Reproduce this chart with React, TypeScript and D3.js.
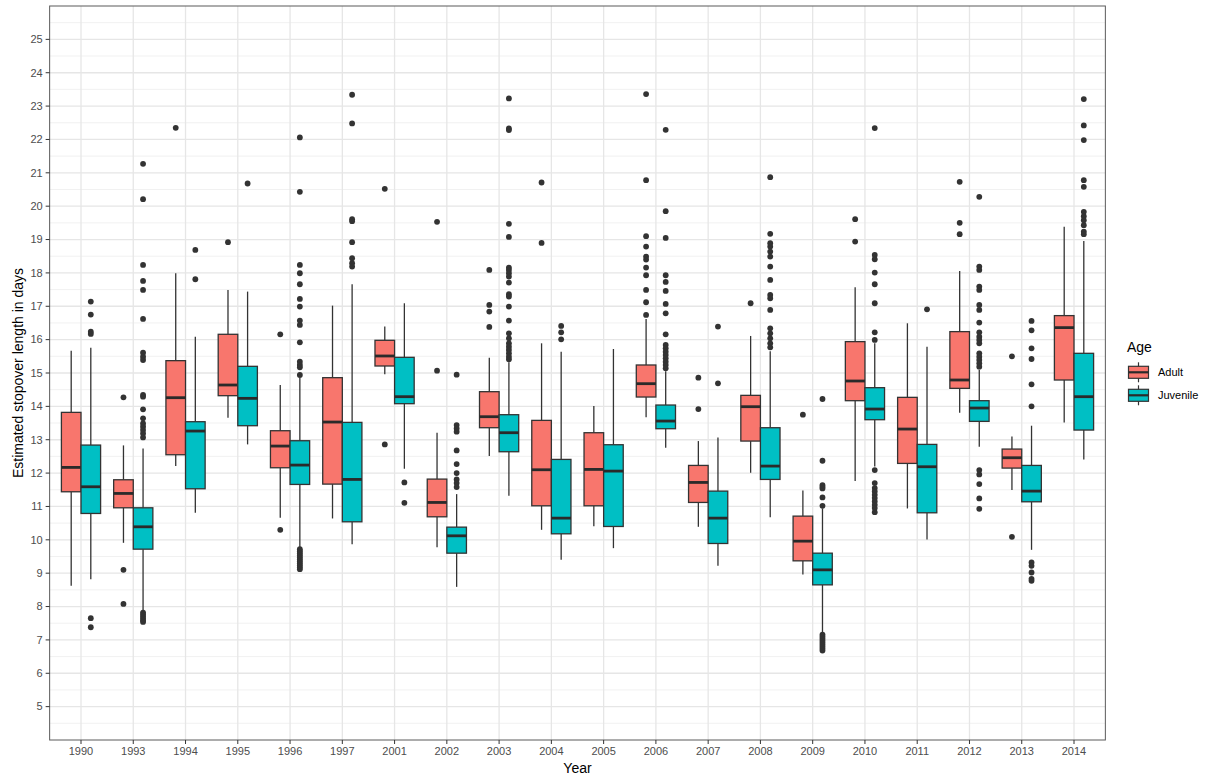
import React from "react";
import * as d3 from "d3";

const years = ["1990","1993","1994","1995","1996","1997","2001","2002","2003","2004","2005","2006","2007","2008","2009","2010","2011","2012","2013","2014"];
const yTicks = [5,6,7,8,9,10,11,12,13,14,15,16,17,18,19,20,21,22,23,24,25];
const ageLevels = ["Adult", "Juvenile"];

const adultLower  = [8.62, 9.91, 12.21, 13.66, 10.66, 10.64, 14.96, 9.78, 12.51, 10.30, 10.41, 13.67, 10.39, 12.01, 8.96, 11.76, 10.94, 13.81, 11.49, 13.52];
const adultQ1     = [11.44, 10.96, 12.55, 14.32, 12.16, 11.67, 15.21, 10.69, 13.36, 11.02, 11.02, 14.28, 11.12, 12.96, 9.37, 14.17, 12.29, 14.54, 12.15, 14.79];
const adultMedian = [12.17, 11.39, 14.26, 14.64, 12.81, 13.53, 15.51, 11.12, 13.69, 12.10, 12.11, 14.68, 11.72, 13.99, 9.96, 14.76, 13.32, 14.79, 12.46, 16.36];
const adultQ3     = [13.82, 11.80, 15.37, 16.16, 13.27, 14.86, 15.98, 11.82, 14.44, 13.58, 13.21, 15.24, 12.23, 14.33, 10.71, 15.94, 14.27, 16.24, 12.72, 16.72];
const adultUpper  = [15.67, 12.83, 17.99, 17.49, 14.64, 17.02, 16.39, 13.21, 15.46, 15.89, 14.01, 16.62, 12.96, 16.11, 11.48, 17.57, 16.49, 18.06, 13.10, 19.38];
const adultOutliers = [
  [],
  [14.27, 9.10, 8.08],
  [22.35],
  [18.92],
  [16.16, 10.30],
  [],
  [20.52, 12.86],
  [19.53, 15.07],
  [18.09, 17.04, 16.84, 16.38],
  [20.71, 18.90],
  [],
  [23.36, 20.78, 19.10, 18.79, 18.49, 18.40, 18.16, 17.93, 17.49, 17.12, 16.74],
  [14.86, 13.92],
  [17.09],
  [13.75],
  [19.61, 18.94],
  [],
  [20.73, 19.50, 19.16],
  [15.50, 10.09],
  []
];

const juvLower  = [8.82, 7.88, 10.81, 12.86, 9.78, 9.87, 12.13, 8.59, 11.32, 9.40, 9.75, 12.76, 9.22, 10.68, 7.22, 12.20, 10.01, 12.79, 9.70, 12.41];
const juvQ1     = [10.79, 9.72, 11.53, 13.42, 11.66, 10.54, 14.08, 9.60, 12.64, 10.18, 10.40, 13.33, 9.89, 11.81, 8.65, 13.60, 10.81, 13.55, 11.14, 13.29];
const juvMedian = [11.59, 10.39, 13.26, 14.24, 12.24, 11.81, 14.29, 10.12, 13.21, 10.65, 12.06, 13.56, 10.65, 12.21, 9.10, 13.92, 12.19, 13.95, 11.46, 14.29];
const juvQ3     = [12.84, 10.96, 13.54, 15.20, 12.97, 13.52, 15.47, 10.38, 13.75, 12.41, 12.85, 14.04, 11.46, 13.36, 9.60, 14.56, 12.86, 14.17, 12.23, 15.59];
const juvUpper  = [15.76, 12.74, 16.09, 17.44, 14.85, 17.66, 17.09, 11.37, 15.32, 15.64, 15.72, 15.05, 13.07, 15.65, 10.94, 15.89, 15.79, 15.10, 13.42, 18.96];
const juvOutliers = [
  [17.14, 16.75, 16.24, 16.17, 7.65, 7.38],
  [21.27, 20.21, 18.24, 17.76, 17.49, 16.62, 15.61, 15.49, 15.39, 14.34, 14.29, 13.91, 13.64, 13.49, 13.39, 13.29, 13.19, 13.07, 7.82, 7.76, 7.70, 7.64, 7.58, 7.54],
  [18.69, 17.81],
  [20.68],
  [22.06, 20.43, 18.24, 17.99, 17.66, 17.22, 16.99, 16.57, 16.44, 15.92, 15.34, 15.24, 15.17, 14.94, 9.72, 9.66, 9.60, 9.54, 9.48, 9.42, 9.36, 9.30, 9.24, 9.18, 9.12],
  [23.34, 22.48, 19.61, 19.55, 18.92, 18.44, 18.29, 18.19],
  [11.72, 11.11],
  [14.95, 13.44, 13.34, 13.24, 12.68, 12.27, 12.00, 11.81, 11.70, 11.58],
  [23.23, 22.33, 22.28, 19.47, 19.08, 18.16, 18.09, 17.99, 17.89, 17.71, 17.36, 17.29, 16.99, 16.57, 16.19, 16.04, 15.89, 15.79, 15.69, 15.59, 15.49, 15.41],
  [16.41, 16.22, 16.01],
  [],
  [22.29, 19.85, 19.05, 17.93, 17.73, 17.46, 17.07, 16.79, 16.16, 15.84, 15.74, 15.64, 15.54, 15.44, 15.34, 15.24, 15.14],
  [16.39, 14.69],
  [20.87, 19.17, 18.89, 18.79, 18.64, 18.49, 18.19, 17.79, 17.34, 17.24, 16.89, 16.34, 16.19, 16.04, 15.89, 15.77],
  [14.22, 12.37, 11.64, 11.59, 11.54, 11.27, 11.02, 7.16, 7.10, 7.04, 6.98, 6.92, 6.86, 6.80, 6.74, 6.68],
  [22.34, 18.54, 18.41, 18.01, 17.66, 17.09, 16.22, 15.99, 12.09, 11.70, 11.55, 11.45, 11.35, 11.25, 11.15, 11.05, 10.95, 10.83],
  [16.91],
  [20.28, 18.19, 18.09, 17.59, 17.49, 17.04, 16.89, 16.51, 16.22, 16.09, 15.99, 15.89, 15.59, 15.49, 15.39, 15.29, 15.19, 12.09, 11.96, 11.67, 11.24, 10.93],
  [16.56, 16.28, 15.74, 15.42, 14.66, 14.00, 9.32, 9.22, 9.02, 8.83, 8.77],
  [23.21, 22.42, 21.98, 20.78, 20.58, 19.83, 19.70, 19.58, 19.43, 19.24, 19.16]
];

const FONT = "'Liberation Sans', Arial, Helvetica, sans-serif";
const INK = "#333333";

export default function App() {
  const top = 6, bottom = 740;
  const x = d3.scalePoint<string>().domain(years).range([81, 1074]);
  const step = x.step();
  const left = (x(years[0]) as number) - 0.6 * step;
  const right = (x(years[years.length - 1]) as number) + 0.6 * step;
  const y = d3.scaleLinear().domain([4, 26]).range([bottom, top]);
  const color = d3.scaleOrdinal<string, string>().domain(ageLevels).range(["#F8766D", "#00BFC4"]);
  const dodge = d3.scaleBand<string>().domain(ageLevels).range([-0.375 * step, 0.375 * step]);
  const boxW = dodge.bandwidth();

  const minorTicks = d3.range(4.5, 26, 1);

  const series = [
    { name: "Adult", lower: adultLower, q1: adultQ1, med: adultMedian, q3: adultQ3, upper: adultUpper, out: adultOutliers },
    { name: "Juvenile", lower: juvLower, q1: juvQ1, med: juvMedian, q3: juvQ3, upper: juvUpper, out: juvOutliers },
  ];

  return (
    <div style={{ position: "absolute", left: 0, top: 0 }}>
      <svg width={1208} height={778} style={{ display: "block", background: "#fff" }} fontFamily={FONT}>
        <rect x={left} y={top} width={right - left} height={bottom - top} fill="#fff" />
        {minorTicks.map((t) => (
          <line key={"mn" + t} x1={left} x2={right} y1={y(t)} y2={y(t)} stroke="#EDEDED" strokeWidth={0.8} />
        ))}
        {yTicks.map((t) => (
          <line key={"mj" + t} x1={left} x2={right} y1={y(t)} y2={y(t)} stroke="#E6E6E6" strokeWidth={1.3} />
        ))}
        {years.map((yr) => (
          <line key={"vx" + yr} x1={x(yr)} x2={x(yr)} y1={top} y2={bottom} stroke="#E6E6E6" strokeWidth={1.3} />
        ))}

        {series.map((s) =>
          years.map((yr, i) => {
            const cx = (x(yr) as number) + (dodge(s.name) as number) + boxW / 2;
            const x0 = cx - boxW / 2;
            return (
              <g key={s.name + yr}>
                <line x1={cx} x2={cx} y1={y(s.upper[i])} y2={y(s.q3[i])} stroke={INK} strokeWidth={1.3} />
                <line x1={cx} x2={cx} y1={y(s.q1[i])} y2={y(s.lower[i])} stroke={INK} strokeWidth={1.3} />
                <rect x={x0} y={y(s.q3[i])} width={boxW} height={y(s.q1[i]) - y(s.q3[i])} fill={color(s.name)} stroke={INK} strokeWidth={1.3} />
                <line x1={x0} x2={x0 + boxW} y1={y(s.med[i])} y2={y(s.med[i])} stroke="#2a2a2a" strokeWidth={2.8} />
                {s.out[i].map((v, j) => (
                  <circle key={j} cx={cx} cy={y(v)} r={2.9} fill="#333333" />
                ))}
              </g>
            );
          })
        )}

        <rect x={left} y={top} width={right - left} height={bottom - top} fill="none" stroke="#5a5a5a" strokeWidth={1} />

        {yTicks.map((t) => (
          <g key={"yt" + t}>
            <line x1={left - 4} x2={left} y1={y(t)} y2={y(t)} stroke={INK} strokeWidth={1} />
            <text x={left - 7} y={y(t)} dy="0.35em" textAnchor="end" fontSize={11} fill="#4D4D4D">{t}</text>
          </g>
        ))}
        {years.map((yr) => (
          <g key={"xt" + yr}>
            <line x1={x(yr)} x2={x(yr)} y1={bottom} y2={bottom + 4} stroke={INK} strokeWidth={1} />
            <text x={x(yr)} y={755} textAnchor="middle" fontSize={11} fill="#4D4D4D">{yr}</text>
          </g>
        ))}

        <text x={(left + right) / 2} y={773} textAnchor="middle" fontSize={14} fill="#000">Year</text>
        <text transform={`translate(23, ${(top + bottom) / 2}) rotate(-90)`} textAnchor="middle" fontSize={14} fill="#000">
          Estimated stopover length in days
        </text>

        <text x={1127} y={352} fontSize={14} fill="#000">Age</text>
        {ageLevels.map((a, i) => {
          const cy = 372.3 + i * 23;
          const kx = 1128.5, kw = 20;
          return (
            <g key={"lg" + a}>
              <line x1={kx + kw / 2} x2={kx + kw / 2} y1={cy - 10} y2={cy + 10} stroke={INK} strokeWidth={1.2} />
              <rect x={kx} y={cy - 6} width={kw} height={12} fill={color(a)} stroke={INK} strokeWidth={1.2} />
              <line x1={kx} x2={kx + kw} y1={cy} y2={cy} stroke="#2a2a2a" strokeWidth={2.2} />
              <text x={1158} y={cy} dy="0.35em" fontSize={11} fill="#000">{a}</text>
            </g>
          );
        })}
      </svg>
    </div>
  );
}
